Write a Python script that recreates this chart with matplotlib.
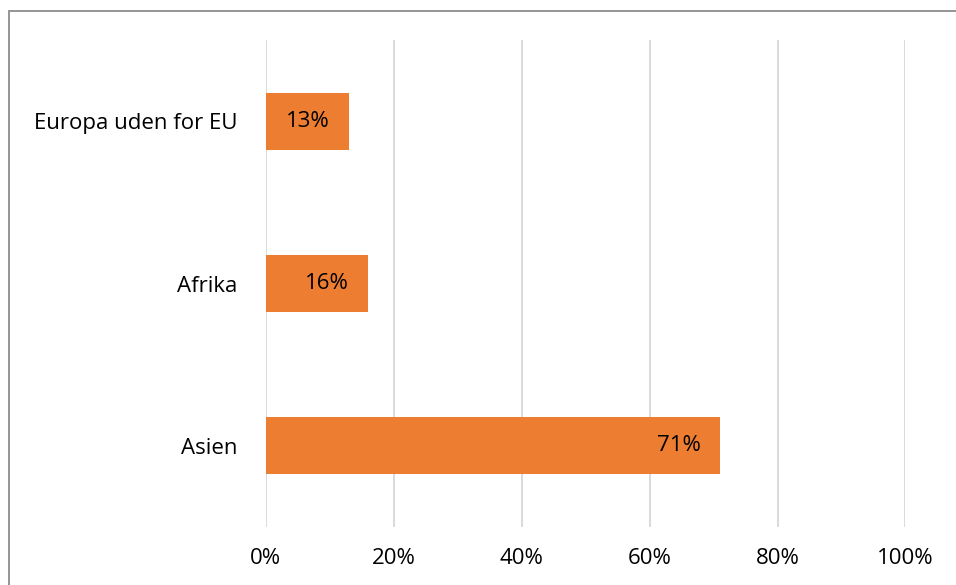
import matplotlib.pyplot as plt
import matplotlib.patches as patches
from matplotlib.ticker import FuncFormatter

categories = ['Asien', 'Afrika', 'Europa uden for EU']
values = [0.71, 0.16, 0.13]
bar_color = '#ED7D31'

plt.rcParams['font.family'] = ['Open Sans', 'DejaVu Sans']

W, H = 956, 585
fig = plt.figure(figsize=(W / 100, H / 100), dpi=100)
ax = fig.add_axes([265.5 / W, 1 - 527 / H, 640 / W, 487 / H])

ypos = list(range(len(categories)))
bars = ax.barh(ypos, values, height=0.35, color=bar_color, zorder=3)
ax.set_ylim(-0.5, 2.5)
ax.set_xlim(0, 1)

ax.set_yticks(ypos)
ax.set_yticklabels(categories, fontsize=16, color='#000000')
ax.set_xticks([0, 0.2, 0.4, 0.6, 0.8, 1.0])
ax.xaxis.set_major_formatter(FuncFormatter(lambda v, p: f'{v * 100:.0f}%'))
ax.tick_params(axis='x', length=0, pad=15, labelsize=16)
ax.tick_params(axis='y', length=0, pad=20)

ax.grid(axis='x', color='#D9D9D9', linewidth=1.4, zorder=0)
for s in ax.spines.values():
    s.set_visible(False)

for b, v in zip(bars, values):
    ax.annotate(f'{v * 100:.0f}%', (b.get_width(), b.get_y() + b.get_height() / 2),
                xytext=(-14, 0), textcoords='offset points',
                ha='right', va='center', fontsize=16, color='#000000', zorder=4)

# outer chart border (clipped at right and bottom)
fig.patches.append(patches.Rectangle((9 / W, -0.1), 1.2, 1 - 11 / H + 0.1,
                                     transform=fig.transFigure, fill=False,
                                     edgecolor='#8C8C8C', linewidth=1.3))

fig.savefig('out.png', dpi=100)
